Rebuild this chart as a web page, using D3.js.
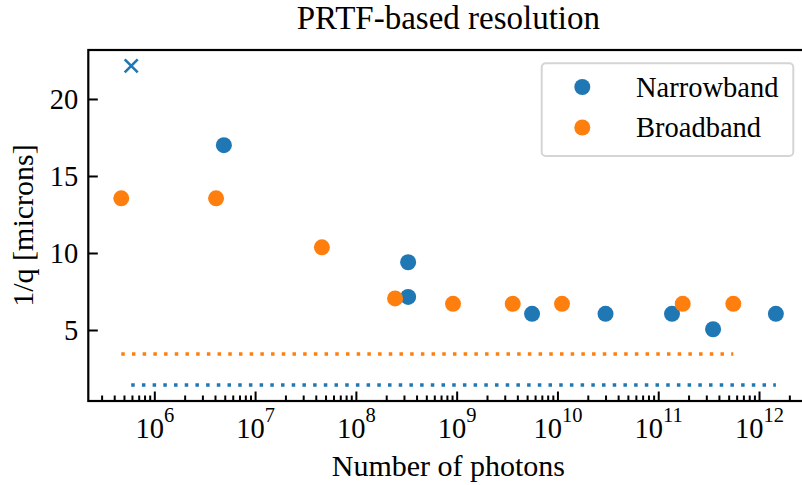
<!DOCTYPE html>
<html>
<head>
<meta charset="utf-8">
<script src="https://cdn.jsdelivr.net/npm/d3@7"></script>
<style>
  body { margin: 0; background: #fff; }
  svg { font-family: "Liberation Serif", "DejaVu Serif", serif; }
</style>
</head>
<body>
<div class="chart"></div>
<script>
// Data
const narrowPhotons = [4.9e6, 3.3e8, 3.3e8, 5.6e9, 3.0e10, 1.37e11, 3.5e11, 1.47e12]
const narrowRes = [17.0, 9.4, 7.15, 6.05, 6.05, 6.05, 5.05, 6.05]
const outlierPhotons = [5.9e5]
const outlierRes = [22.15]
const broadPhotons = [4.7e5, 4.1e6, 4.6e7, 2.45e8, 9.2e8, 3.6e9, 1.11e10, 1.75e11, 5.56e11]
const broadRes = [13.55, 13.55, 10.37, 7.05, 6.7, 6.7, 6.7, 6.7, 6.7]
const narrowLimit = 1.43
const broadLimit = 3.44
const yTicks = [5, 10, 15, 20]
const xTickExps = [6, 7, 8, 9, 10, 11, 12]
const seriesNames = ['Narrowband', 'Broadband']

const blue = '#1f77b4'
const orange = '#ff7f0e'
const fontSize = 28.5
const labelSize = 30

// Dimensions
const dims = { width: 802, height: 485, left: 88.3, right: 808.5, top: 50, bottom: 401 }

const svg = d3.select('.chart')
    .append('svg')
    .attr('width', dims.width)
    .attr('height', dims.height)

const xScale = d3.scaleLog()
    .domain([Math.pow(10, 5.345), Math.pow(10, 12.491)])
    .range([dims.left, dims.right])

const yScale = d3.scaleLinear()
    .domain([0.39, 23.18])
    .range([dims.bottom, dims.top])

// minor ticks 2..9 for each decade
const minorTicks = []
for (let e = 5; e <= 12; e++) {
    for (let m = 2; m <= 9; m++) {
        const v = m * Math.pow(10, e)
        if (v > xScale.domain()[0] && v < xScale.domain()[1]) minorTicks.push(v)
    }
}

// Axes
svg.append('g')
    .attr('transform', `translate(0, ${dims.bottom})`)
    .call(d3.axisBottom(xScale).tickValues(minorTicks).tickSize(-5.5).tickFormat(''))

const xAxis = svg.append('g')
    .attr('transform', `translate(0, ${dims.bottom})`)
    .call(d3.axisBottom(xScale)
        .tickValues(xTickExps.map(e => Math.pow(10, e)))
        .tickSize(-9.5)
        .tickFormat(''))

xAxis.selectAll('.tick text')
    .data(xTickExps)
    .attr('font-size', fontSize)
    .attr('y', 36.5)
    .attr('dy', 0)
    .each(function(e) {
        const t = d3.select(this)
        t.append('tspan').text('10')
        t.append('tspan').attr('font-size', 20.5).attr('dy', '-0.75em').text(e)
    })

const yAxis = svg.append('g')
    .attr('transform', `translate(${dims.left}, 0)`)
    .call(d3.axisLeft(yScale).tickValues(yTicks).tickSize(-9.5).tickPadding(10))

yAxis.selectAll('.tick text').attr('font-size', fontSize)

svg.selectAll('.domain').remove()
svg.selectAll('.tick line').attr('stroke', '#000').attr('stroke-width', 2)
svg.selectAll('.tick text').attr('fill', '#000').attr('font-family', '"Liberation Serif", serif')

// Spines
svg.append('rect')
    .attr('x', dims.left)
    .attr('y', dims.top)
    .attr('width', dims.right - dims.left)
    .attr('height', dims.bottom - dims.top)
    .attr('fill', 'none')
    .attr('stroke', '#000')
    .attr('stroke-width', 2.2)

// Limit lines (dotted), spanning each series' photon range
const narrowAll = narrowPhotons.concat(outlierPhotons)
const limits = [
    { y: broadLimit, ext: d3.extent(broadPhotons), color: orange },
    { y: narrowLimit, ext: d3.extent(narrowAll), color: blue }
]
svg.selectAll('line.limit')
    .data(limits)
    .join('line')
    .attr('class', 'limit')
    .attr('x1', d => xScale(d.ext[0]))
    .attr('x2', d => xScale(d.ext[1]))
    .attr('y1', d => yScale(d.y))
    .attr('y2', d => yScale(d.y))
    .attr('stroke', d => d.color)
    .attr('stroke-width', 3.5)
    .attr('stroke-dasharray', '3.5 7.2')

// Points
svg.append('g').selectAll('circle')
    .data(d3.zip(narrowPhotons, narrowRes))
    .join('circle')
    .attr('cx', d => xScale(d[0]))
    .attr('cy', d => yScale(d[1]))
    .attr('r', 8)
    .attr('fill', blue)

svg.append('g').selectAll('circle')
    .data(d3.zip(broadPhotons, broadRes))
    .join('circle')
    .attr('cx', d => xScale(d[0]))
    .attr('cy', d => yScale(d[1]))
    .attr('r', 8)
    .attr('fill', orange)

svg.append('g').selectAll('path')
    .data(d3.zip(outlierPhotons, outlierRes))
    .join('path')
    .attr('d', d => {
        const x = xScale(d[0]), y = yScale(d[1]), s = 6.5
        return `M${x - s},${y - s}L${x + s},${y + s}M${x - s},${y + s}L${x + s},${y - s}`
    })
    .attr('stroke', blue)
    .attr('stroke-width', 2.6)

// Legend
const legend = svg.append('g')
legend.append('rect')
    .attr('x', 541.7)
    .attr('y', 63.3)
    .attr('width', 251.6)
    .attr('height', 92.7)
    .attr('rx', 4)
    .attr('fill', '#fff')
    .attr('fill-opacity', 0.8)
    .attr('stroke', '#d5d5d5')
    .attr('stroke-width', 2)

const legendRows = legend.selectAll('g.row')
    .data(seriesNames)
    .join('g')
    .attr('class', 'row')
    .attr('transform', (d, i) => `translate(0, ${87 + i * 40.5})`)

legendRows.append('circle')
    .attr('cx', 582.3)
    .attr('r', 8)
    .attr('fill', (d, i) => i === 0 ? blue : orange)

legendRows.append('text')
    .attr('x', 636)
    .attr('dy', '0.35em')
    .attr('font-size', fontSize)
    .text(d => d)

// Labels
svg.append('text')
    .attr('x', (dims.left + dims.right) / 2)
    .attr('y', 29)
    .attr('text-anchor', 'middle')
    .attr('font-size', 33)
    .text('PRTF-based resolution')

svg.append('text')
    .attr('x', (dims.left + dims.right) / 2)
    .attr('y', 476)
    .attr('text-anchor', 'middle')
    .attr('font-size', labelSize)
    .text('Number of photons')

svg.append('text')
    .attr('transform', `translate(33, ${(dims.top + dims.bottom) / 2}) rotate(-90)`)
    .attr('text-anchor', 'middle')
    .attr('font-size', labelSize)
    .text('1/q [microns]')
</script>
</body>
</html>
